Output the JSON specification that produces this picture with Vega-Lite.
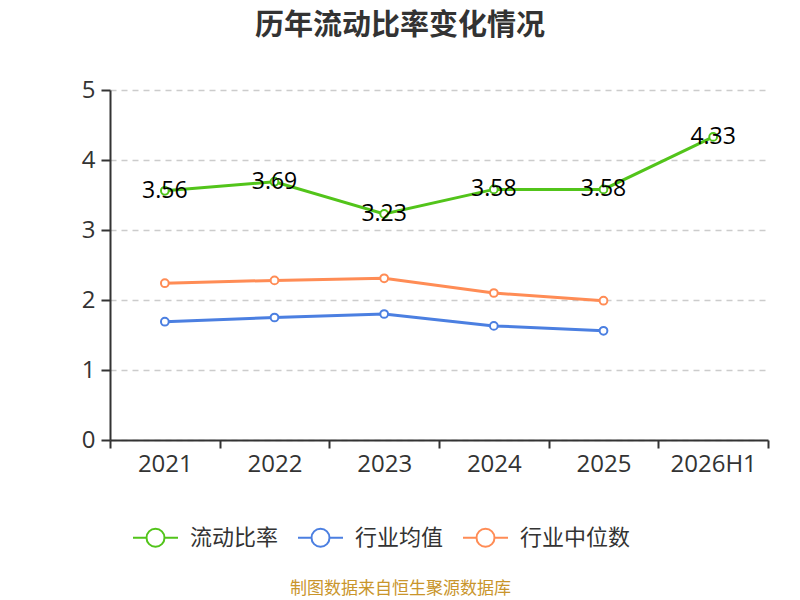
{
  "$schema": "https://vega.github.io/schema/vega-lite/v6.json",
  "width": 658,
  "height": 350,
  "autosize": "none",
  "padding": {"left": 110, "top": 90, "right": 32, "bottom": 160},
  "background": "white",
  "config": {
    "font": "Open Sans, Noto Sans CJK SC",
    "view": {"stroke": null}
  },
  "title": {
    "text": "历年流动比率变化情况",
    "font": "Noto Sans CJK SC",
    "fontSize": 29,
    "fontWeight": "bold",
    "color": "#333333",
    "anchor": "middle",
    "dx": -39,
    "offset": 37
  },
  "data": {
    "values": [
      {"year": "2021", "series": "流动比率", "value": 3.56},
      {"year": "2022", "series": "流动比率", "value": 3.69},
      {"year": "2023", "series": "流动比率", "value": 3.23},
      {"year": "2024", "series": "流动比率", "value": 3.58},
      {"year": "2025", "series": "流动比率", "value": 3.58},
      {"year": "2026H1", "series": "流动比率", "value": 4.33},
      {"year": "2021", "series": "行业均值", "value": 1.69},
      {"year": "2022", "series": "行业均值", "value": 1.75},
      {"year": "2023", "series": "行业均值", "value": 1.80},
      {"year": "2024", "series": "行业均值", "value": 1.63},
      {"year": "2025", "series": "行业均值", "value": 1.56},
      {"year": "2021", "series": "行业中位数", "value": 2.24},
      {"year": "2022", "series": "行业中位数", "value": 2.28},
      {"year": "2023", "series": "行业中位数", "value": 2.31},
      {"year": "2024", "series": "行业中位数", "value": 2.10},
      {"year": "2025", "series": "行业中位数", "value": 1.99}
    ]
  },
  "encoding": {
    "x": {
      "field": "year",
      "type": "ordinal",
      "sort": ["2021", "2022", "2023", "2024", "2025", "2026H1"],
      "scale": {"paddingInner": 0, "paddingOuter": 0},
      "axis": {
        "title": "制图数据来自恒生聚源数据库",
        "titleColor": "#c9952b",
        "titleFont": "Noto Sans CJK SC",
        "titleFontSize": 17,
        "titleFontWeight": "normal",
        "titleX": 290,
        "titleY": 140,
        "labelAngle": 0,
        "labelFontSize": 24,
        "labelColor": "#333333",
        "labelPadding": 4,
        "domainColor": "#333333",
        "domainWidth": 2,
        "tickColor": "#333333",
        "tickWidth": 2,
        "tickSize": 8,
        "tickBand": "extent",
        "grid": false
      }
    },
    "y": {
      "field": "value",
      "type": "quantitative",
      "scale": {"domain": [0, 5]},
      "axis": {
        "title": null,
        "values": [0, 1, 2, 3, 4, 5],
        "labelFontSize": 24,
        "labelColor": "#333333",
        "labelPadding": 6,
        "domainColor": "#333333",
        "domainWidth": 2,
        "tickColor": "#333333",
        "tickWidth": 2,
        "tickSize": 9,
        "grid": true,
        "gridColor": "#cccccc",
        "gridDash": [6, 5],
        "gridWidth": 1.5
      }
    },
    "color": {
      "field": "series",
      "type": "nominal",
      "sort": ["流动比率", "行业均值", "行业中位数"],
      "scale": {
        "domain": ["流动比率", "行业均值", "行业中位数"],
        "range": ["#52c41a", "#4b7fe1", "#ff8c55"]
      },
      "legend": {
        "title": null,
        "orient": "none",
        "direction": "horizontal",
        "legendX": 22,
        "legendY": 424,
        "labelFont": "Noto Sans CJK SC",
        "labelFontSize": 22,
        "labelColor": "#333333",
        "labelOffset": 11,
        "columnPadding": 15,
        "symbolType": "M-1,0L-0.4,0M0.4,0L1,0M0.4,0A0.4,0.4 0 1,1 -0.4,0A0.4,0.4 0 1,1 0.4,0",
        "symbolSize": 2025,
        "symbolStrokeWidth": 2,
        "symbolFillColor": "white"
      }
    }
  },
  "layer": [
    {"mark": {"type": "line", "strokeWidth": 3}},
    {"mark": {"type": "point", "filled": false, "fill": "white", "size": 60, "strokeWidth": 2, "opacity": 1}},
    {
      "transform": [{"filter": "datum.series === '流动比率'"}],
      "mark": {"type": "text", "fontSize": 23, "align": "center", "baseline": "middle"},
      "encoding": {
        "text": {"field": "value", "type": "quantitative", "format": ".2f"},
        "color": {"value": "black"}
      }
    }
  ]
}
